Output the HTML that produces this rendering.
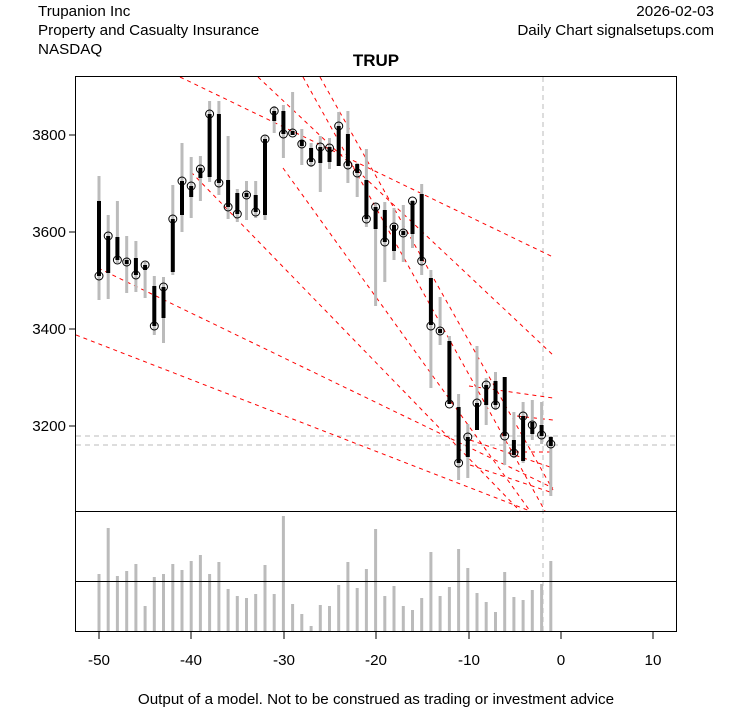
<!DOCTYPE html>
<html><head><meta charset="utf-8"><style>
body{margin:0;background:#fff;}
svg{display:block;font-family:"Liberation Sans",Arial,sans-serif;}
</style></head><body>
<svg width="753" height="708" viewBox="0 0 753 708" xmlns="http://www.w3.org/2000/svg">
<rect width="753" height="708" fill="#fff"/>
<g font-size="15.2">
<text x="38" y="16">Trupanion Inc</text>
<text x="38" y="35">Property and Casualty Insurance</text>
<text x="38" y="54">NASDAQ</text>
<text x="714" y="16" text-anchor="end">2026-02-03</text>
<text x="714" y="35" text-anchor="end">Daily Chart signalsetups.com</text>
<text x="376" y="704" text-anchor="middle">Output of a model. Not to be construed as trading or investment advice</text>
</g>
<text x="376" y="66" font-size="17" font-weight="bold" text-anchor="middle">TRUP</text>
<defs><clipPath id="c"><rect x="76" y="77" width="600" height="434"/></clipPath></defs>
<g stroke="#bbb" stroke-dasharray="5,4" stroke-width="1">
<line x1="543" y1="77" x2="543" y2="632"/>
<line x1="76" y1="436" x2="676" y2="436"/>
<line x1="76" y1="445" x2="676" y2="445"/>
</g>
<g clip-path="url(#c)" stroke="#f00" stroke-width="1" stroke-dasharray="4,4" fill="none">
<line x1="180" y1="77" x2="553" y2="257"/>
<line x1="258" y1="77" x2="553" y2="355"/>
<line x1="303" y1="77" x2="545" y2="511"/>
<line x1="320" y1="77" x2="553" y2="490"/>
<line x1="283" y1="168" x2="530" y2="511"/>
<line x1="191" y1="172" x2="520" y2="511"/>
<line x1="98" y1="268" x2="553" y2="488"/>
<line x1="76" y1="335" x2="530" y2="511"/>
<line x1="469" y1="386" x2="553" y2="398"/>
<line x1="517" y1="416" x2="553" y2="420"/>
<line x1="515" y1="452" x2="553" y2="452"/>
<line x1="470" y1="440" x2="553" y2="468"/>
<line x1="470" y1="465" x2="553" y2="493"/>
</g>
<path stroke="#bbb" stroke-width="3" fill="none" d="M99 176V300M108.2 215V299M117.4 201V263M126.7 236V293M135.9 241V292M145.1 262V298M154.3 276V335M163.5 277V343M172.8 185V275M182 143V232M191.2 157V218M200.4 156V201M209.6 101V182M218.9 101V195M228.1 136V219M237.3 189V222M246.5 181V220M255.7 181V218M265 135V220M274.2 106V133M283.4 105V158M292.6 92V135M301.8 129V165M311.1 143V167M320.3 136V192M329.5 138V169M338.7 112V157M347.9 111V183M357.2 163V197M366.4 149V227M375.6 203V306M384.8 202V282M394 208V260M403.3 205V262M412.5 200V248M421.7 184V275M430.9 270V388M440.1 297V345M449.4 336V404M458.6 394V480M467.8 424V478M477 346V430M486.2 378V425M495.5 372V410M504.7 377V465M513.9 412V458M523.1 402V463M532.3 400V440M541.6 402V444M550.8 436V496"/>
<path stroke="#000" stroke-width="4" fill="none" d="M99 201V276M108.2 236V273M117.4 237V260M126.7 260V264M135.9 258V275M145.1 265V270M154.3 286V326M163.5 287V318M172.8 219V272M182 181V215M191.2 186V197M200.4 168V178M209.6 114V177M218.9 114V183M228.1 180V207M237.3 193V214M246.5 193V197M255.7 195V212M265 139V215M274.2 111V121M283.4 111V134M292.6 131V135M301.8 140V146M311.1 148V162M320.3 147V163M329.5 147V162M338.7 126V166M347.9 134V166M357.2 164V173M366.4 180V219M375.6 207V229M384.8 210V242M394 225V251M403.3 231V235M412.5 201V234M421.7 194V261M430.9 278V325M440.1 329V333M449.4 341V404M458.6 407V463M467.8 437V457M477 403V430M486.2 385V405M495.5 381V405M504.7 377V436M513.9 440V455M523.1 416V461M532.3 422V434M541.6 425V436M550.8 437V446"/>
<g fill="none" stroke="#000" stroke-width="1">
<circle cx="99" cy="276" r="4"/><circle cx="108.2" cy="236" r="4"/><circle cx="117.4" cy="260" r="4"/><circle cx="126.7" cy="262" r="4"/><circle cx="135.9" cy="275" r="4"/><circle cx="145.1" cy="265" r="4"/><circle cx="154.3" cy="326" r="4"/><circle cx="163.5" cy="287" r="4"/><circle cx="172.8" cy="219" r="4"/><circle cx="182" cy="181" r="4"/><circle cx="191.2" cy="186" r="4"/><circle cx="200.4" cy="169" r="4"/><circle cx="209.6" cy="114" r="4"/><circle cx="218.9" cy="183" r="4"/><circle cx="228.1" cy="207" r="4"/><circle cx="237.3" cy="214" r="4"/><circle cx="246.5" cy="195" r="4"/><circle cx="255.7" cy="212" r="4"/><circle cx="265" cy="139" r="4"/><circle cx="274.2" cy="111" r="4"/><circle cx="283.4" cy="134" r="4"/><circle cx="292.6" cy="133" r="4"/><circle cx="301.8" cy="144" r="4"/><circle cx="311.1" cy="162" r="4"/><circle cx="320.3" cy="147" r="4"/><circle cx="329.5" cy="148" r="4"/><circle cx="338.7" cy="126" r="4"/><circle cx="347.9" cy="165" r="4"/><circle cx="357.2" cy="173" r="4"/><circle cx="366.4" cy="219" r="4"/><circle cx="375.6" cy="207" r="4"/><circle cx="384.8" cy="242" r="4"/><circle cx="394" cy="227" r="4"/><circle cx="403.3" cy="233" r="4"/><circle cx="412.5" cy="201" r="4"/><circle cx="421.7" cy="261" r="4"/><circle cx="430.9" cy="326" r="4"/><circle cx="440.1" cy="331" r="4"/><circle cx="449.4" cy="404" r="4"/><circle cx="458.6" cy="463" r="4"/><circle cx="467.8" cy="437" r="4"/><circle cx="477" cy="403" r="4"/><circle cx="486.2" cy="385" r="4"/><circle cx="495.5" cy="405" r="4"/><circle cx="504.7" cy="436" r="4"/><circle cx="513.9" cy="453" r="4"/><circle cx="523.1" cy="416" r="4"/><circle cx="532.3" cy="425" r="4"/><circle cx="541.6" cy="435" r="4"/><circle cx="550.8" cy="444" r="4"/>
</g>
<path stroke="#bbb" stroke-width="3" fill="none" d="M99 574V631M108.2 528V631M117.4 576V631M126.7 571V631M135.9 564V631M145.1 606V631M154.3 577V631M163.5 574V631M172.8 564V631M182 570V631M191.2 561V631M200.4 555V631M209.6 574V631M218.9 562V631M228.1 589V631M237.3 596V631M246.5 598V631M255.7 594V631M265 565V631M274.2 594V631M283.4 516V631M292.6 604V631M301.8 614V631M311.1 626V631M320.3 605V631M329.5 606V631M338.7 585V631M347.9 562V631M357.2 588V631M366.4 569V631M375.6 529V631M384.8 596V631M394 586V631M403.3 606V631M412.5 610V631M421.7 598V631M430.9 552V631M440.1 596V631M449.4 587V631M458.6 549V631M467.8 568V631M477 593V631M486.2 602V631M495.5 612V631M504.7 572V631M513.9 597V631M523.1 600V631M532.3 590V631M541.6 584V631M550.8 561V631"/>
<rect x="75.5" y="76.5" width="601" height="555" fill="none" stroke="#000"/>
<line x1="76" y1="511.5" x2="676" y2="511.5" stroke="#000"/>
<line x1="76" y1="581.5" x2="676" y2="581.5" stroke="#000"/>
<g stroke="#000">
<line x1="69" y1="135" x2="75" y2="135"/><line x1="69" y1="232" x2="75" y2="232"/>
<line x1="69" y1="329" x2="75" y2="329"/><line x1="69" y1="426" x2="75" y2="426"/>
<line x1="99" y1="632" x2="99" y2="639"/><line x1="191" y1="632" x2="191" y2="639"/>
<line x1="284" y1="632" x2="284" y2="639"/><line x1="376" y1="632" x2="376" y2="639"/>
<line x1="469" y1="632" x2="469" y2="639"/><line x1="561" y1="632" x2="561" y2="639"/>
<line x1="653" y1="632" x2="653" y2="639"/>
</g>
<g font-size="15.2" text-anchor="end">
<text x="66" y="140">3800</text><text x="66" y="237">3600</text>
<text x="66" y="334">3400</text><text x="66" y="431">3200</text>
</g>
<g font-size="15.2" text-anchor="middle">
<text x="99" y="665">-50</text><text x="191" y="665">-40</text><text x="284" y="665">-30</text>
<text x="376" y="665">-20</text><text x="469" y="665">-10</text><text x="561" y="665">0</text>
<text x="653" y="665">10</text>
</g>
</svg>
</body></html>
